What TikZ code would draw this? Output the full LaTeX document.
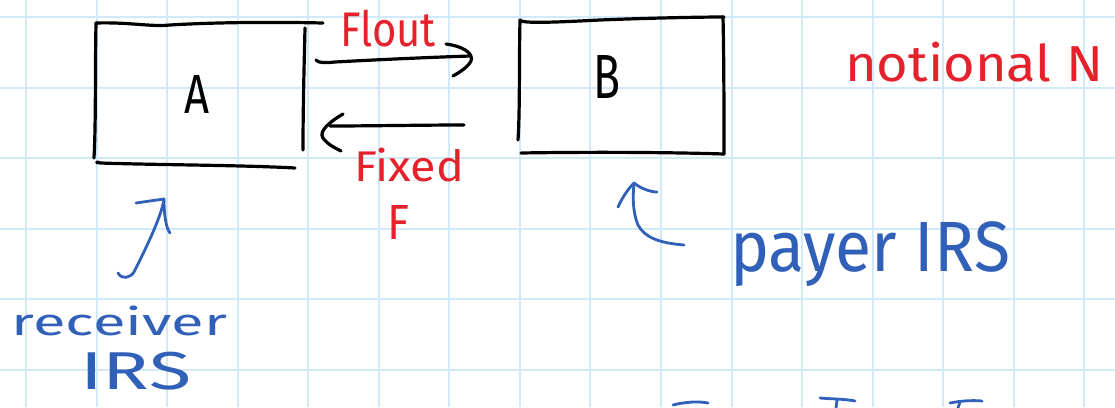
\documentclass[tikz,border=0pt]{standalone}
\usepackage{fontspec}
\setmainfont{Fira Sans}
\usepackage{graphicx}
\definecolor{gridc}{HTML}{D2E9F8}
\definecolor{inkred}{HTML}{E5212B}
\definecolor{inkblue}{HTML}{3060B8}
\newcommand{\hwtext}[3]{\resizebox*{#1pt}{#2pt}{#3}}
\tikzset{
  ink/.style={line width=3.2pt, line cap=round, line join=round, black},
  bink/.style={line width=2.8pt, line cap=round, line join=round, inkblue},
  gridline/.style={gridc, line width=2pt},
  lbl/.style={inner sep=0pt, outer sep=0pt, anchor=north west},
}
\begin{document}
\begin{tikzpicture}[x=1pt,y=-1pt]
\fill[white] (0,0) rectangle (1115,407);
\useasboundingbox (0,0) rectangle (1115,407);
% grid paper
\foreach \i in {0,...,15} \draw[gridline] ({26+70.55*\i},0) -- ++(0,407);
\foreach \j in {0,...,5} \draw[gridline] (0,{17+70.5*\j}) -- ++(1115,0);

% box A (hand strokes)
\draw[ink] (96,23) .. controls (130,22) and (150,27) .. (170,25) .. controls (220,22) and (280,22) .. (323,23);
\draw[ink] (96,23) .. controls (95,70) and (96,120) .. (94,158);
\draw[ink] (305,28) .. controls (304,70) and (303,110) .. (303,150);
\draw[ink] (97,163) .. controls (96,161) and (100,163) .. (100,163) .. controls (160,165) and (240,165) .. (295,168);
\node[lbl] (nA) at (184,75) {\hwtext{25}{38}{A}};

% box B
\draw[ink] (520,20) .. controls (521,24) and (560,22) .. (600,20) .. controls (650,18) and (700,17) .. (724,17);
\draw[ink] (520,20) .. controls (519,60) and (520,110) .. (518,140);
\draw[ink] (723,17) .. controls (724,60) and (724,120) .. (724,154);
\draw[ink] (521,153) .. controls (580,152) and (660,152) .. (724,154);
\node[lbl] (nB) at (593,55) {\hwtext{27}{43}{B}};

% arrows between the boxes
\coordinate (fs) at (316,60);
\coordinate (fe) at (470,56);
\draw[ink] (fs) .. controls (318,63) and (325,63) .. (335,62) .. controls (390,59) and (440,57) .. (fe);
\draw[ink] (446,44) .. controls (462,46) and (474,53) .. (471,61) .. controls (468,67) and (460,72) .. (453,76);
\coordinate (bs) at (464,125);
\coordinate (be) at (330,126);
\draw[ink] (bs) .. controls (420,125) and (370,126) .. (be);
\draw[ink] (343,114) .. controls (331,121) and (318,131) .. (323,138) .. controls (327,144) and (335,148) .. (341,151);

% red labels
\node[lbl, text=inkred] (flout) at (340,10) {\hwtext{96}{37}{Flout}};
\node[lbl, text=inkred] (fixed) at (354,148) {\hwtext{110}{34}{Fixed}};
\node[lbl, text=inkred] (fF) at (387,205) {\hwtext{22}{34}{F}};
\node[lbl, text=inkred] (notional) at (845,42) {\hwtext{258}{40}{notional N}};

% blue arrow and label under A
\draw[bink] (118,273) .. controls (122,280) and (130,278) .. (134,272) .. controls (145,250) and (160,220) .. (164,200);
\draw[bink] (136,203) -- (164,199) .. controls (164,215) and (166,228) .. (170,233);
\node[lbl, text=inkblue] (receiver) at (12,306) {\hwtext{215}{30}{receiver}};
\node[lbl, text=inkblue] (irsA) at (80,352) {\hwtext{111}{38}{IRS}};

% blue arrow and label under B
\draw[bink] (684,245) .. controls (660,243) and (645,238) .. (638,225) .. controls (632,210) and (633,195) .. (634,183);
\draw[bink] (618,207) .. controls (622,198) and (628,189) .. (634,183) .. controls (640,188) and (650,192) .. (657,192);
\node[lbl, text=inkblue] (payer) at (730,222) {\hwtext{280}{65}{payer IRS}};

% fragments at the bottom edge
\draw[bink] (673,405) .. controls (685,402) and (698,401) .. (708,403);
\draw[bink] (820,398) .. controls (832,399) and (845,399) .. (855,401);
\draw[bink] (837,400) -- (836,408);
\draw[bink] (950,403) .. controls (960,401) and (972,400) .. (982,401);
\draw[bink] (960,402) -- (958,408);
\end{tikzpicture}
\end{document}
